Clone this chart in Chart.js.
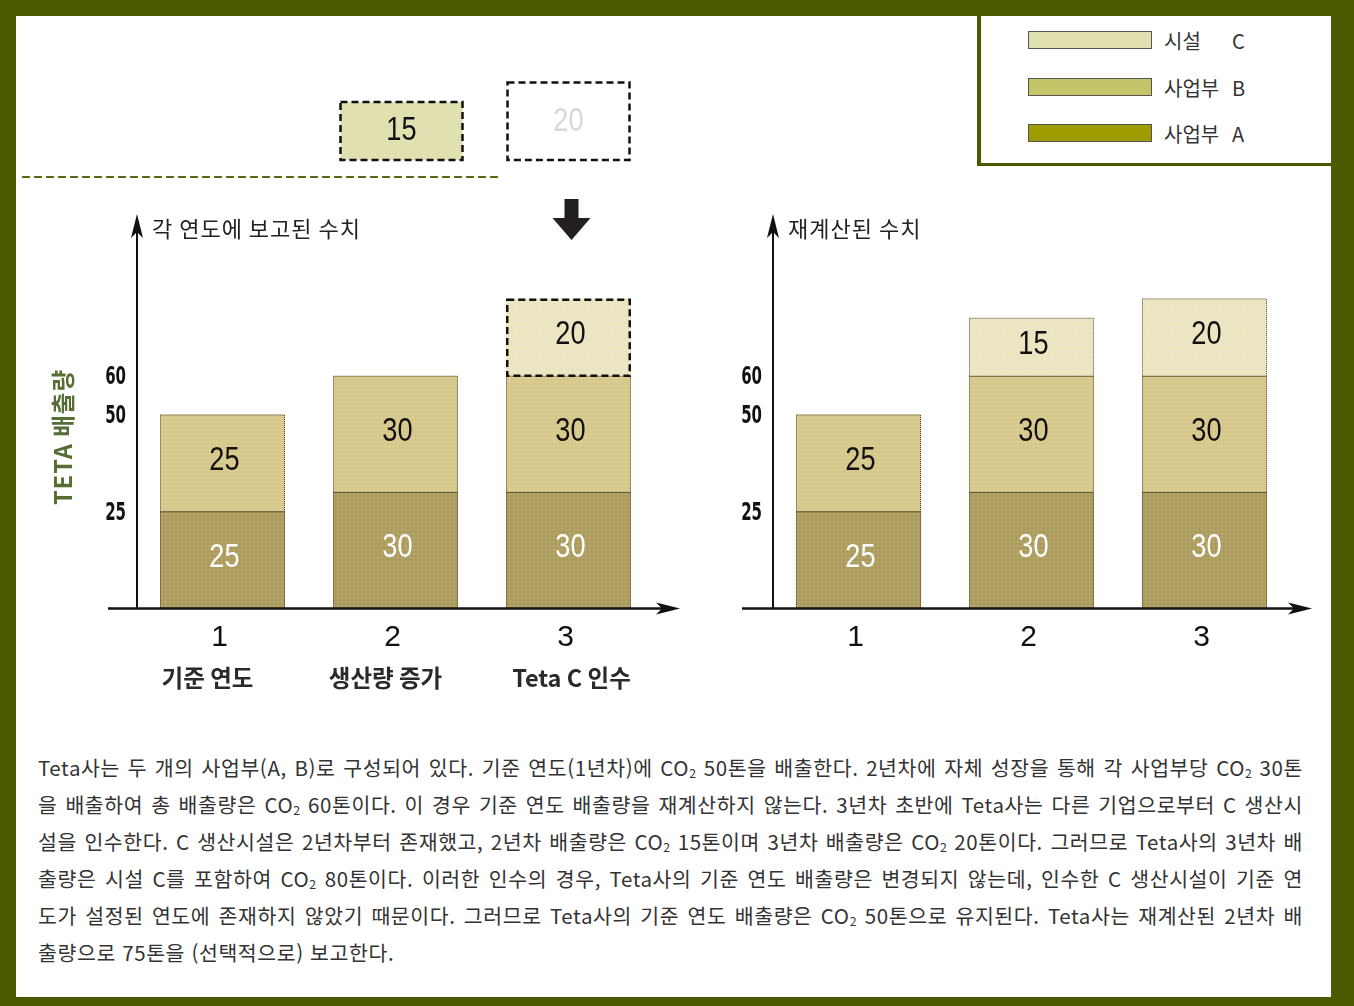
<!DOCTYPE html>
<html lang="ko">
<head>
<meta charset="UTF-8">
<title>기준 연도 배출량 재계산</title>
<style>
  body {
    margin: 0;
    width: 1354px;
    height: 1006px;
    position: relative;
    overflow: hidden;
    background: #4b5a00;
    font-family: "Noto Sans CJK KR", sans-serif;
  }
  #sheet { position: absolute; left: 16px; top: 16px; width: 1315px; height: 981px; background: #fff; }
  canvas { position: absolute; }
  #legend {
    position: absolute; left: 977px; top: 16px; width: 350px; height: 147px;
    background: #fff; border-left: 4px solid #4b5a00; border-bottom: 3px solid #4b5a00;
  }
  .item { position: absolute; left: 0; height: 19px; }
  .swatch { position: absolute; left: 47px; top: 0; width: 122px; height: 16px; border: 1.5px solid #555; }
  .name { position: absolute; left: 183px; top: -4px; font-size: 20px; line-height: 28px; color: #333; white-space: nowrap; }
  .name span { display: inline-block; width: 68px; }
  #notes { position: absolute; left: 38px; top: 749px; width: 1265px; font-size: 20.5px; letter-spacing: 0.6px; color: #333; }
  .line { height: 37px; line-height: 37px; white-space: nowrap; }
  .line span { display: inline-block; }
  sub { font-size: 0.6em; vertical-align: -0.15em; line-height: 0; letter-spacing: 0; }
</style>
</head>
<body>
<div id="sheet"></div>
<canvas id="reported" width="704" height="714" style="left:16px; top:16px;"></canvas>
<canvas id="recalc" width="611" height="714" style="left:720px; top:16px;"></canvas>
<div id="legend"></div>

<div id="notes">
  <div class="line"><span>Teta사는 두 개의 사업부(A, B)로 구성되어 있다. 기준 연도(1년차)에 CO<sub>2</sub> 50톤을 배출한다. 2년차에 자체 성장을 통해 각 사업부당 CO<sub>2</sub> 30톤</span></div>
  <div class="line"><span>을 배출하여 총 배출량은 CO<sub>2</sub> 60톤이다. 이 경우 기준 연도 배출량을 재계산하지 않는다. 3년차 초반에 Teta사는 다른 기업으로부터 C 생산시</span></div>
  <div class="line"><span>설을 인수한다. C 생산시설은 2년차부터 존재했고, 2년차 배출량은 CO<sub>2</sub> 15톤이며 3년차 배출량은 CO<sub>2</sub> 20톤이다. 그러므로 Teta사의 3년차 배</span></div>
  <div class="line"><span>출량은 시설 C를 포함하여 CO<sub>2</sub> 80톤이다. 이러한 인수의 경우, Teta사의 기준 연도 배출량은 변경되지 않는데, 인수한 C 생산시설이 기준 연</span></div>
  <div class="line"><span>도가 설정된 연도에 존재하지 않았기 때문이다. 그러므로 Teta사의 기준 연도 배출량은 CO<sub>2</sub> 50톤으로 유지된다. Teta사는 재계산된 2년차 배</span></div>
  <div class="line last"><span>출량으로 75톤을 (선택적으로) 보고한다.</span></div>
</div>

<script src="https://cdn.jsdelivr.net/npm/chart.js"></script>
<script>
  // data
  const years = ['1', '2', '3'];
  const yearNotes = ['기준 연도', '생산량 증가', 'Teta C 인수'];
  const seriesNames = ['사업부 A', '사업부 B', '시설 C'];
  const reportedA = [25, 30, 30];
  const reportedB = [25, 30, 30];
  const reportedC = [null, null, 20];
  const recalcA = [25, 30, 30];
  const recalcB = [25, 30, 30];
  const recalcC = [null, 15, 20];
  const outsideC = [null, 15, 20];   // C 시설 (인수 전)
  const yTicks = [25, 50, 60];

  // styles
  const legendColors = ['#9c9c00', '#c4c468', '#e0e0b0'];
  const valueColors = ['#fff', '#111', '#111'];
  const noteShift = [-15, -10, 3];

  function dots(base, dot, step) {
    const c = document.createElement('canvas');
    c.width = step; c.height = step;
    const g = c.getContext('2d');
    g.fillStyle = base;
    g.fillRect(0, 0, step, step);
    g.fillStyle = dot;
    g.fillRect(1, 1, 1.5, 1.5);
    return g.createPattern(c, 'repeat');
  }
  const barFills = [
    dots('#ac9c60', '#c2b36e', 4),
    dots('#d6c78e', '#e2d88e', 4),
    dots('#ebe5c4', '#f3efb4', 6)
  ];

  // legend (C, B, A from top)
  const legend = document.getElementById('legend');
  [2, 1, 0].forEach((s, k) => {
    const parts = seriesNames[s].split(' ');
    const item = document.createElement('div');
    item.className = 'item';
    item.style.top = (15 + k * 46.5) + 'px';
    item.innerHTML = '<div class="swatch" style="background:' + legendColors[s] + '"></div>' +
      '<div class="name"><span>' + parts[0] + '</span>' + parts[1] + '</div>';
    legend.appendChild(item);
  });

  // spread each full line of the note across the column
  document.querySelectorAll('#notes .line').forEach(line => {
    if (line.classList.contains('last')) return;
    const span = line.firstElementChild;
    const gaps = (span.textContent.match(/ /g) || []).length;
    const extra = 1265 - span.getBoundingClientRect().width;
    span.style.wordSpacing = (extra / gaps) + 'px';
  });

  function arrowHead(ctx, x, y, dx, dy, len, hw) {
    const px = -dy, py = dx;
    ctx.beginPath();
    ctx.moveTo(x, y);
    ctx.lineTo(x - dx * len + px * hw, y - dy * len + py * hw);
    ctx.lineTo(x - dx * (len - 6), y - dy * (len - 6));
    ctx.lineTo(x - dx * len - px * hw, y - dy * len - py * hw);
    ctx.closePath();
    ctx.fill();
  }

  // condensed number text
  function narrow(ctx, text, x, y, sx) {
    ctx.save();
    ctx.translate(x, y);
    ctx.scale(sx, 1);
    ctx.fillText(text, 0, 0);
    ctx.restore();
  }
  const numFont = '34px "Liberation Sans", sans-serif';

  const scheme = {
    id: 'scheme',
    afterDatasetsDraw(chart, args, opts) {
      const ctx = chart.ctx;
      const area = chart.chartArea;
      const ys = chart.scales.y;
      ctx.save();

      // segment outlines and values
      chart.data.datasets.forEach((ds, di) => {
        const meta = chart.getDatasetMeta(di);
        meta.data.forEach((bar, i) => {
          const v = ds.data[i];
          if (v == null) return;
          const p = bar.getProps(['x', 'y', 'base', 'width'], true);
          const l = p.x - p.width / 2, t = Math.min(p.y, p.base), h = Math.abs(p.base - p.y);
          if (opts.dashedC && di === 2) {
            ctx.setLineDash([7, 4]);
            ctx.lineWidth = 2.5;
            ctx.strokeStyle = '#111';
            ctx.strokeRect(l + 1.25, t + 1.25, p.width - 2.5, h - 1.25);
          } else {
            ctx.setLineDash([1, 1]);
            ctx.lineWidth = 1;
            ctx.strokeStyle = 'rgba(55,45,25,0.8)';
            ctx.strokeRect(l + 0.5, t + 0.5, p.width - 1, h);
          }
          ctx.setLineDash([]);
          ctx.fillStyle = valueColors[di];
          ctx.font = numFont;
          ctx.textAlign = 'center';
          ctx.textBaseline = 'middle';
          narrow(ctx, String(v), p.x + 2, t + h / 2 - 2, 0.8);
        });
      });

      // axes
      ctx.fillStyle = '#111';
      ctx.strokeStyle = '#111';
      const ax = area.left + 1;
      ctx.lineWidth = 2;
      ctx.beginPath();
      ctx.moveTo(ax, area.bottom);
      ctx.lineTo(ax, area.top + 6);
      ctx.stroke();
      arrowHead(ctx, ax, area.top - 7, 0, -1, 24, 6);
      ctx.lineWidth = 2.5;
      ctx.beginPath();
      ctx.moveTo(area.left - opts.axisLeft, area.bottom + 0.5);
      ctx.lineTo(area.right + opts.axisRight - 10, area.bottom + 0.5);
      ctx.stroke();
      arrowHead(ctx, area.right + opts.axisRight, area.bottom + 0.5, 1, 0, 24, 6);

      // y tick labels
      ctx.font = 'bold 25px "DejaVu Sans", sans-serif';
      ctx.textAlign = 'right';
      ctx.textBaseline = 'middle';
      yTicks.forEach(v => {
        narrow(ctx, String(v), area.left - 10, ys.getPixelForValue(v) + 2, 0.6);
      });

      // category labels
      const base = chart.getDatasetMeta(0).data;
      ctx.textAlign = 'center';
      years.forEach((y, i) => {
        ctx.fillStyle = '#111';
        ctx.font = '30px "Liberation Sans", sans-serif';
        ctx.fillText(y, base[i].x - 3, area.bottom + 30);
        if (opts.notes) {
          ctx.fillStyle = '#2a2a2a';
          ctx.font = 'bold 23.5px "Noto Sans CJK KR", sans-serif';
          ctx.fillText(yearNotes[i], base[i].x + noteShift[i], area.bottom + 70);
        }
      });

      // title above the y axis
      ctx.fillStyle = '#222';
      ctx.font = '22px "Noto Sans CJK KR", sans-serif';
      ctx.letterSpacing = '1px';
      ctx.textAlign = 'left';
      ctx.fillText(opts.title, area.left + 16, area.top + 8);
      ctx.letterSpacing = '0px';

      if (opts.extras) {
        // y axis title
        ctx.save();
        ctx.translate(area.left - 73, area.bottom - 171);
        ctx.rotate(-Math.PI / 2);
        ctx.fillStyle = '#566e35';
        ctx.font = 'bold 23.5px "Noto Sans CJK KR", sans-serif';
        ctx.letterSpacing = '1px';
        ctx.textAlign = 'center';
        ctx.fillText('TETA 배출량', 0, 0);
        ctx.restore();

        // dashed divider
        ctx.strokeStyle = '#5a6a12';
        ctx.lineWidth = 2;
        ctx.setLineDash([8, 4]);
        ctx.beginPath();
        ctx.moveTo(area.left - 114, area.top - 44);
        ctx.lineTo(area.left + 362, area.top - 44);
        ctx.stroke();

        // C facility before acquisition
        const boxBottom = area.top - 61;
        const unit = ys.getPixelForValue(0) - ys.getPixelForValue(1);
        outsideC.forEach((v, i) => {
          if (v == null) return;
          const w = base[i].width - 3;
          const h = v * unit;
          const cx = base[i].x + (i === 1 ? 6 : 0);
          const l = cx - w / 2;
          const inside = recalcC[i] != null && reportedC[i] == null;
          ctx.fillStyle = inside ? legendColors[2] : '#fff';
          ctx.fillRect(l, boxBottom - h, w, h);
          ctx.setLineDash([7, 4]);
          ctx.lineWidth = 2.5;
          ctx.strokeStyle = '#111';
          ctx.strokeRect(l, boxBottom - h, w, h);
          ctx.setLineDash([]);
          ctx.fillStyle = inside ? '#111' : '#d8d8d8';
          ctx.font = numFont;
          ctx.textAlign = 'center';
          narrow(ctx, String(v), cx, boxBottom - h / 2, 0.8);
        });

        // acquisition arrow
        const ax3 = base[2].x + 3;
        ctx.fillStyle = '#231f20';
        ctx.fillRect(ax3 - 7, area.top - 22, 14, 20);
        ctx.beginPath();
        ctx.moveTo(ax3 - 19, area.top - 3);
        ctx.lineTo(ax3 + 19, area.top - 3);
        ctx.lineTo(ax3, area.top + 19);
        ctx.closePath();
        ctx.fill();
      }
      ctx.restore();
    }
  };

  function stackChart(id, a, b, c, pad, opts) {
    return new Chart(document.getElementById(id), {
      type: 'bar',
      data: {
        labels: years,
        datasets: [a, b, c].map((d, i) => ({
          label: seriesNames[i],
          data: d,
          backgroundColor: barFills[i],
          borderWidth: 0,
          categoryPercentage: 1,
          barPercentage: 0.7225
        }))
      },
      options: {
        responsive: false,
        animation: false,
        layout: { padding: pad },
        scales: {
          x: { display: false, stacked: true },
          y: { display: false, stacked: true, min: 0, max: 100 }
        },
        plugins: {
          legend: { display: false },
          tooltip: { enabled: false },
          scheme: opts
        }
      },
      plugins: [scheme]
    });
  }

  stackChart('reported', reportedA, reportedB, reportedC,
    { left: 120, right: 65, top: 205, bottom: 122 },
    { title: '각 연도에 보고된 수치', notes: true, extras: true, dashedC: true, axisLeft: 28, axisRight: 25 });

  stackChart('recalc', recalcA, recalcB, recalcC,
    { left: 52, right: 40, top: 205, bottom: 122 },
    { title: '재계산된 수치', notes: false, extras: false, dashedC: false, axisLeft: 30, axisRight: 21 });
</script>
</body>
</html>
